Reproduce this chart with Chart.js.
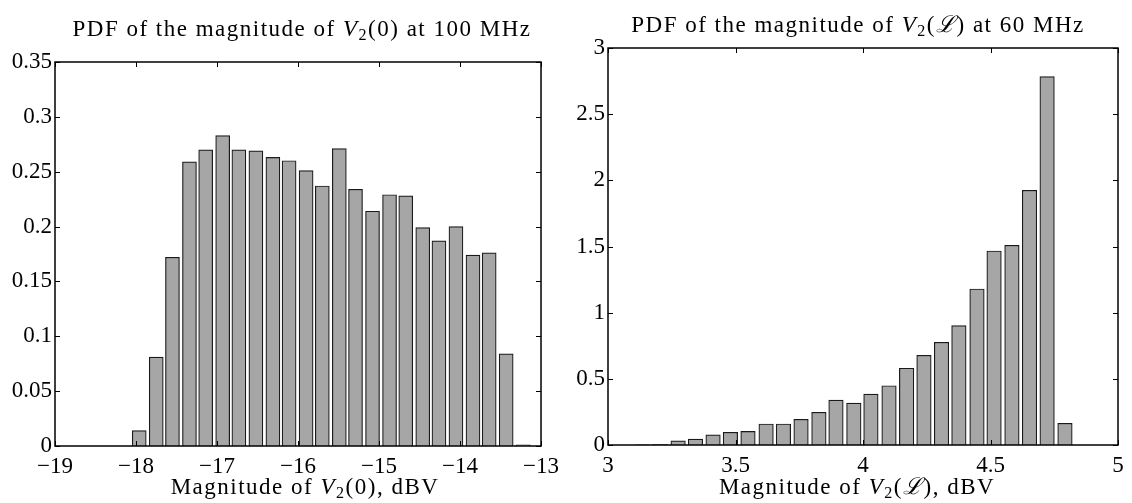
<!DOCTYPE html>
<html lang="en">
<head>
<meta charset="UTF-8">
<title>PDF of the magnitude of V2</title>
<script src="https://cdn.jsdelivr.net/npm/chart.js"></script>
<style>
    body {
        margin: 0;
        background: #fff;
        width: 1132px;
        height: 503px;
        overflow: hidden;
        position: relative;
        font-family: "Liberation Serif", serif;
    }
    .panel {
        position: absolute;
        top: 0;
    }
    .lbl {
        position: absolute;
        white-space: nowrap;
        font-size: 23px;
        letter-spacing: 1.5px;
        line-height: 1;
        color: #000;
        transform: translate(-50%, -50%);
    }
    .lbl sub {
        font-size: 0.7em;
        vertical-align: -0.3em;
        line-height: 0;
    }
    .cal {
        font-family: "DejaVu Serif", serif;
        font-style: italic;
    }
</style>
</head>
<body>

<canvas id="leftChart" class="panel" width="566" height="503" style="left:0"></canvas>
<canvas id="rightChart" class="panel" width="566" height="503" style="left:566px"></canvas>

<div class="lbl" style="left:302px; top:28px">PDF of the magnitude of <i>V</i><sub>2</sub>(0) at 100 MHz</div>
<div class="lbl" style="left:858px; top:24px">PDF of the magnitude of <i>V</i><sub>2</sub>(<span class="cal">ℒ</span>) at 60 MHz</div>
<div class="lbl" style="left:305px; top:486px">Magnitude of <i>V</i><sub>2</sub>(0), dBV</div>
<div class="lbl" style="left:857px; top:486px">Magnitude of <i>V</i><sub>2</sub>(<span class="cal">ℒ</span>), dBV</div>

<script>
// left panel: V2(0) at 100 MHz, bin centres (dBV) and density
const leftBins = [-17.96, -17.75, -17.55, -17.34, -17.14, -16.93, -16.73, -16.52, -16.31, -16.11,
                  -15.90, -15.70, -15.49, -15.29, -15.08, -14.87, -14.67, -14.46, -14.26, -14.05,
                  -13.84, -13.64, -13.43, -13.22];
const leftDensity = [0.014, 0.081, 0.172, 0.259, 0.270, 0.283, 0.270, 0.269, 0.263, 0.260,
                     0.251, 0.237, 0.271, 0.234, 0.214, 0.229, 0.228, 0.199, 0.187, 0.200,
                     0.174, 0.176, 0.084, 0.001];

// right panel: V2(L) at 60 MHz
const rightBins = [3.135, 3.204, 3.275, 3.343, 3.412, 3.480, 3.549, 3.620, 3.688, 3.757,
                   3.827, 3.894, 3.964, 4.031, 4.102, 4.171, 4.239, 4.308, 4.376, 4.447,
                   4.514, 4.584, 4.653, 4.722, 4.792];
const rightDensity = [0.002, 0.005, 0.032, 0.045, 0.076, 0.096, 0.103, 0.159, 0.159, 0.194,
                      0.247, 0.340, 0.317, 0.385, 0.448, 0.580, 0.678, 0.776, 0.902, 1.179,
                      1.466, 1.509, 1.925, 2.784, 0.164];

// axis ranges / tick steps
const leftX = { min: -19, max: -13, step: 1 };
const leftY = { min: 0, max: 0.35, step: 0.05 };
const rightX = { min: 3, max: 5, step: 0.5 };
const rightY = { min: 0, max: 3, step: 0.5 };

const tickFont = { family: "'Liberation Serif', serif", size: 23 };

// matlab style: closed box with inward ticks on all four sides
const boxTicks = {
    id: 'boxTicks',
    afterDraw(chart) {
        const { ctx, chartArea: a, scales } = chart;
        const x = scales.x, y = scales.y;
        ctx.save();
        ctx.strokeStyle = '#000';
        ctx.lineWidth = 1;
        ctx.beginPath();
        x.ticks.forEach(t => {
            const px = Math.round(x.getPixelForValue(t.value)) + 0.5;
            ctx.moveTo(px, a.bottom); ctx.lineTo(px, a.bottom - 5);
            ctx.moveTo(px, a.top); ctx.lineTo(px, a.top + 5);
        });
        y.ticks.forEach(t => {
            const py = Math.round(y.getPixelForValue(t.value)) + 0.5;
            ctx.moveTo(a.left, py); ctx.lineTo(a.left + 5, py);
            ctx.moveTo(a.right, py); ctx.lineTo(a.right - 5, py);
        });
        ctx.stroke();
        ctx.lineWidth = 1.5;
        ctx.strokeRect(a.left, a.top, a.right - a.left, a.bottom - a.top);
        ctx.restore();
    }
};

function fmt(v) {
    const s = String(parseFloat(v.toFixed(2)));
    return v < 0 ? '\u2212' + s.slice(1) : s;
}

function makeChart(id, bins, density, xr, yr, area, barWidth) {
    return new Chart(document.getElementById(id), {
        type: 'bar',
        data: {
            datasets: [{
                data: bins.map((b, i) => ({ x: b, y: density[i] })),
                backgroundColor: '#a6a6a6',
                borderColor: '#1a1a1a',
                borderWidth: 1.2,
                barThickness: barWidth
            }]
        },
        options: {
            responsive: false,
            animation: false,
            layout: { padding: { left: 0, right: area.padRight, top: area.top, bottom: 0 } },
            plugins: { legend: { display: false }, tooltip: { enabled: false } },
            scales: {
                x: {
                    type: 'linear',
                    offset: false,
                    min: xr.min, max: xr.max,
                    grid: { display: false, drawTicks: false, offset: false },
                    border: { display: false },
                    afterFit: s => { s.height = area.xHeight; },
                    ticks: {
                        stepSize: xr.step,
                        font: tickFont,
                        color: '#000',
                        padding: 7,
                        maxRotation: 0,
                        autoSkip: false,
                        callback: fmt
                    }
                },
                y: {
                    min: yr.min, max: yr.max,
                    grid: { display: false, drawTicks: false },
                    border: { display: false },
                    afterFit: s => { s.width = area.yWidth; },
                    ticks: {
                        stepSize: yr.step,
                        font: tickFont,
                        color: '#000',
                        padding: 3,
                        callback: fmt
                    }
                }
            }
        },
        plugins: [boxTicks]
    });
}

makeChart('leftChart', leftBins, leftDensity, leftX, leftY,
    { top: 62, padRight: 16, yWidth: 55, xHeight: 57 }, 14);
makeChart('rightChart', rightBins, rightDensity, rightX, rightY,
    { top: 48, padRight: 14, yWidth: 42, xHeight: 58 }, 14.5);
</script>
</body>
</html>
